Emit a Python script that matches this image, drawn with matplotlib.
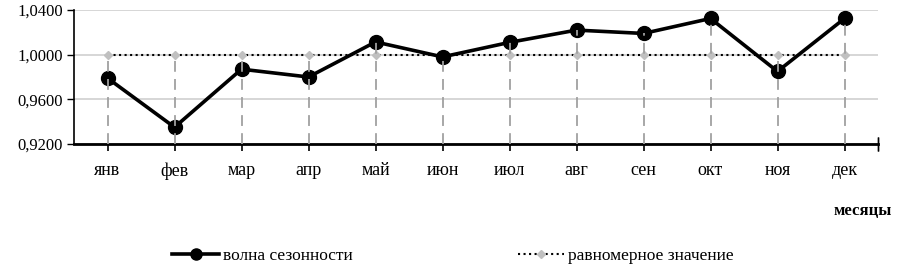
import matplotlib.pyplot as plt
from matplotlib.ticker import FuncFormatter

plt.rcParams['font.family'] = ['Liberation Serif', 'DejaVu Serif']

# месяцы и значения
months = ['янв', 'фев', 'мар', 'апр', 'май', 'июн', 'июл', 'авг', 'сен', 'окт', 'ноя', 'дек']
wave = [0.979, 0.935, 0.987, 0.980, 1.0114, 0.998, 1.011, 1.022, 1.019, 1.0324, 0.985, 1.0324]
even = [1.0] * 12

x = list(range(len(months)))

fig = plt.figure(figsize=(8.97, 2.69), dpi=100)
ax = fig.add_axes([74 / 897, 1 - 144 / 269, (878 - 74) / 897, (144 - 10) / 269])

# линии проекции
tops = [max(a, b) for a, b in zip(wave, even)]
ax.vlines(x, 0.92, tops, colors='#a0a0a0', linestyles=(0, (6, 4)), linewidth=1.3, zorder=4)

ax.plot(x, even, color='black', linestyle=':', linewidth=1.5,
        marker='D', markersize=4.5, markerfacecolor='#c0c0c0', markeredgecolor='#c0c0c0',
        label='равномерное значение', zorder=3)
ax.plot(x, wave, color='black', linewidth=2.6,
        marker='o', markersize=10, markerfacecolor='black', markeredgecolor='black',
        label='волна сезонности', zorder=3)

ax.set_xlim(-0.5, 11.5)
ax.set_ylim(0.92, 1.04)
ax.set_yticks([0.92, 0.96, 1.0, 1.04])
ax.yaxis.set_major_formatter(FuncFormatter(lambda v, p: f'{v:.4f}'.replace('.', ',')))
ax.set_xticks(x)
ax.set_xticklabels(months)
ax.grid(axis='y', color='#d0d0d0', linewidth=1.2)
ax.set_axisbelow(True)

for s in ['top', 'right']:
    ax.spines[s].set_visible(False)
ax.spines['bottom'].set_linewidth(2)
ax.spines['left'].set_linewidth(1.2)
ax.tick_params(axis='y', length=5, width=1, labelsize=12, pad=3)
ax.tick_params(axis='x', length=5, width=1.2, labelsize=13, pad=8)
# отметка на конце оси
ax.plot([11.5, 11.5], [0.92, 0.92], marker='|', markersize=10, color='black', clip_on=False)

fig.text(892 / 897, 1 - 211 / 269, 'месяцы', ha='right', va='center', fontsize=12, fontweight='bold')

h, l = ax.get_legend_handles_labels()
fig.legend(h[::-1], l[::-1], loc='center', bbox_to_anchor=(0.505, 1 - 256 / 269), ncol=2,
           frameon=False, fontsize=12.5, columnspacing=9.5, handlelength=2.7, handletextpad=0.2,
           markerscale=0.8)

fig.savefig('out.png', dpi=100)
